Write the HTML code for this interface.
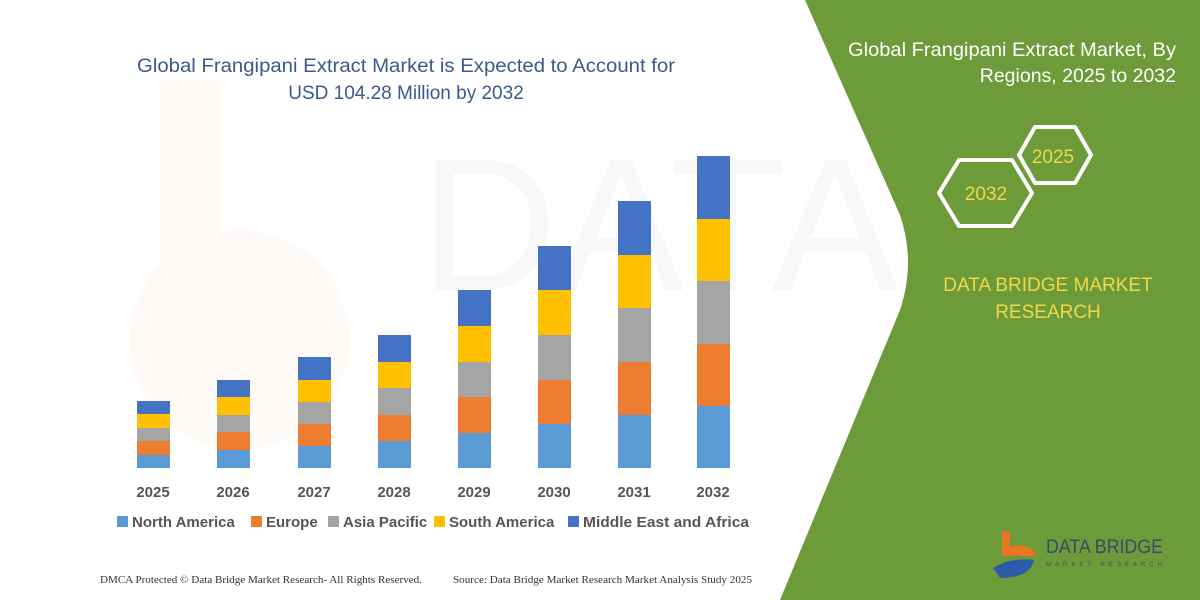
<!DOCTYPE html>
<html><head><meta charset="utf-8"><style>
html,body{margin:0;padding:0;width:1200px;height:600px;overflow:hidden;background:#fff;font-family:"Liberation Sans",sans-serif}
</style></head><body>
<svg width="1200" height="600" viewBox="0 0 1200 600" xmlns="http://www.w3.org/2000/svg">
<rect width="1200" height="600" fill="#fff"/>
<g opacity="0.035" fill="#e87722"><path d="M160 80h60v220h-60z"/><circle cx="240" cy="340" r="110"/></g>
<text x="420" y="290" font-size="190" fill="#000" opacity="0.025" font-family="Liberation Sans">DATA BRIDGE</text>
<path d="M805 0 L1200 0 L1200 600 L780 600 L900 310 Q916 262 900 215 Z" fill="#6d9b3a"/>
<text x="1176" y="56" font-size="19.5" fill="#fff" text-anchor="end" textLength="328" lengthAdjust="spacingAndGlyphs">Global Frangipani Extract Market, By</text>
<text x="1176" y="82" font-size="19.5" fill="#fff" text-anchor="end">Regions, 2025 to 2032</text>
<polygon points="1019,155 1035,127 1075,127 1091,155 1075,183 1035,183" fill="none" stroke="#fff" stroke-width="4" stroke-linejoin="round"/>
<text x="1053" y="163" font-size="19" fill="#f0d84a" text-anchor="middle">2025</text>
<polygon points="939,193 959,160 1012,160 1032,193 1012,226 959,226" fill="none" stroke="#fff" stroke-width="4" stroke-linejoin="round"/>
<text x="986" y="200" font-size="19" fill="#f0d84a" text-anchor="middle">2032</text>
<text x="1048" y="291" font-size="19" fill="#f0d84a" text-anchor="middle">DATA BRIDGE MARKET</text>
<text x="1048" y="318" font-size="19" fill="#f0d84a" text-anchor="middle">RESEARCH</text>
<rect x="1002" y="531" width="8" height="25" fill="#e87722"/>
<path d="M1006 548 Q1030 540 1036 556 L1010 556 Z" fill="#e87722"/>
<path d="M993 568 Q1010 557 1034 560 Q1030 578 1000 578 Z" fill="#2a5ca8"/>
<text x="1046" y="553" font-size="19" fill="#3a4a6a" textLength="117" lengthAdjust="spacingAndGlyphs">DATA BRIDGE</text>
<text x="1046" y="566" font-size="6" fill="#3a4a6a" letter-spacing="4">MARKET RESEARCH</text>
<text x="406" y="72" font-size="19" fill="#3a5a8a" text-anchor="middle" textLength="538" lengthAdjust="spacingAndGlyphs">Global Frangipani Extract Market is Expected to Account for</text>
<text x="406" y="99" font-size="19" fill="#3a5a8a" text-anchor="middle">USD 104.28 Million by 2032</text>
<g font-size="15" font-weight="bold" fill="#555" text-anchor="middle">
<text x="153" y="497">2025</text><text x="233" y="497">2026</text><text x="314" y="497">2027</text><text x="394" y="497">2028</text><text x="474" y="497">2029</text><text x="554" y="497">2030</text><text x="634" y="497">2031</text><text x="713" y="497">2032</text>
</g>
<g font-size="15" font-weight="bold" fill="#555">
<rect x="117" y="516" width="11" height="11" fill="#5b9bd5"/><text x="132" y="527">North America</text>
<rect x="251" y="516" width="11" height="11" fill="#ed7d31"/><text x="266" y="527">Europe</text>
<rect x="328" y="516" width="11" height="11" fill="#a5a5a5"/><text x="343" y="527">Asia Pacific</text>
<rect x="434" y="516" width="11" height="11" fill="#ffc000"/><text x="449" y="527">South America</text>
<rect x="568" y="516" width="11" height="11" fill="#4472c4"/><text x="583" y="527" textLength="166" lengthAdjust="spacingAndGlyphs">Middle East and Africa</text>
</g>
<text x="100" y="583" font-size="10" fill="#333" font-family="Liberation Serif" textLength="322" lengthAdjust="spacingAndGlyphs">DMCA Protected © Data Bridge Market Research-  All Rights Reserved.</text>
<text x="453" y="583" font-size="10" fill="#333" font-family="Liberation Serif" textLength="299" lengthAdjust="spacingAndGlyphs">Source: Data Bridge Market Research  Market Analysis Study 2025</text>
<g>
<rect x="137" y="455" width="33" height="13" fill="#5b9bd5"/><rect x="137" y="441" width="33" height="14" fill="#ed7d31"/><rect x="137" y="428" width="33" height="13" fill="#a5a5a5"/><rect x="137" y="414" width="33" height="14" fill="#ffc000"/><rect x="137" y="401" width="33" height="13" fill="#4472c4"/>
<rect x="217" y="450" width="33" height="18" fill="#5b9bd5"/><rect x="217" y="432" width="33" height="18" fill="#ed7d31"/><rect x="217" y="415" width="33" height="17" fill="#a5a5a5"/><rect x="217" y="397" width="33" height="18" fill="#ffc000"/><rect x="217" y="380" width="33" height="17" fill="#4472c4"/>
<rect x="298" y="446" width="33" height="22" fill="#5b9bd5"/><rect x="298" y="424" width="33" height="22" fill="#ed7d31"/><rect x="298" y="402" width="33" height="22" fill="#a5a5a5"/><rect x="298" y="380" width="33" height="22" fill="#ffc000"/><rect x="298" y="357" width="33" height="23" fill="#4472c4"/>
<rect x="378" y="441" width="33" height="27" fill="#5b9bd5"/><rect x="378" y="415" width="33" height="26" fill="#ed7d31"/><rect x="378" y="388" width="33" height="27" fill="#a5a5a5"/><rect x="378" y="362" width="33" height="26" fill="#ffc000"/><rect x="378" y="335" width="33" height="27" fill="#4472c4"/>
<rect x="458" y="433" width="33" height="35" fill="#5b9bd5"/><rect x="458" y="397" width="33" height="36" fill="#ed7d31"/><rect x="458" y="362" width="33" height="35" fill="#a5a5a5"/><rect x="458" y="326" width="33" height="36" fill="#ffc000"/><rect x="458" y="290" width="33" height="36" fill="#4472c4"/>
<rect x="538" y="424" width="33" height="44" fill="#5b9bd5"/><rect x="538" y="380" width="33" height="44" fill="#ed7d31"/><rect x="538" y="335" width="33" height="45" fill="#a5a5a5"/><rect x="538" y="290" width="33" height="45" fill="#ffc000"/><rect x="538" y="246" width="33" height="44" fill="#4472c4"/>
<rect x="618" y="415" width="33" height="53" fill="#5b9bd5"/><rect x="618" y="362" width="33" height="53" fill="#ed7d31"/><rect x="618" y="308" width="33" height="54" fill="#a5a5a5"/><rect x="618" y="255" width="33" height="53" fill="#ffc000"/><rect x="618" y="201" width="33" height="54" fill="#4472c4"/>
<rect x="697" y="406" width="33" height="62" fill="#5b9bd5"/><rect x="697" y="344" width="33" height="62" fill="#ed7d31"/><rect x="697" y="281" width="33" height="63" fill="#a5a5a5"/><rect x="697" y="219" width="33" height="62" fill="#ffc000"/><rect x="697" y="156" width="33" height="63" fill="#4472c4"/>
</g>
</svg>
</body></html>
